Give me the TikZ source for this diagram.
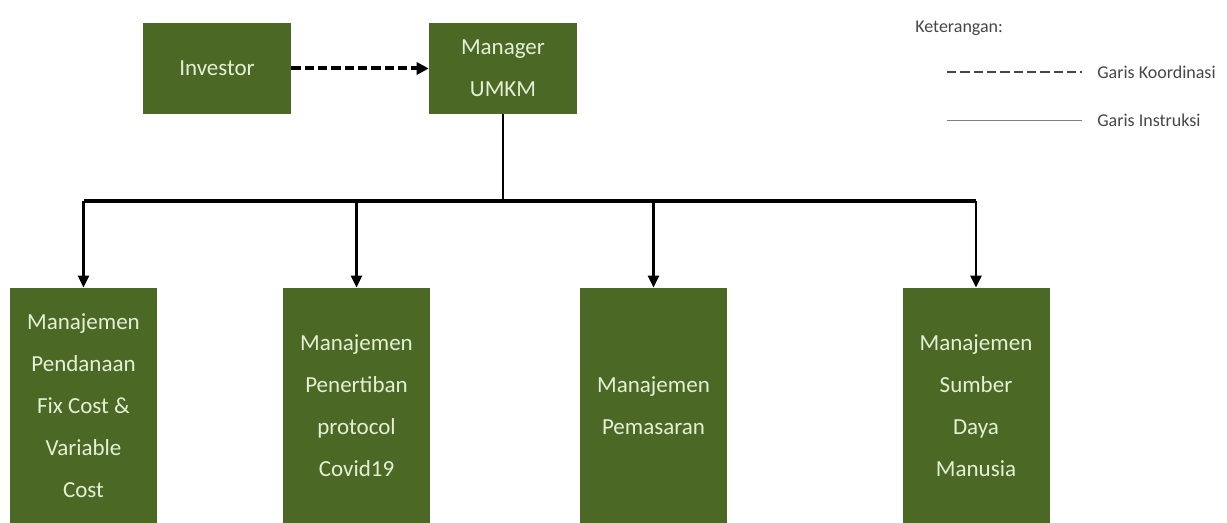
\documentclass[tikz,border=0pt]{standalone}
\usepackage{fontspec}
\setmainfont{Carlito}
\usepackage{xcolor}
\usetikzlibrary{positioning,calc,arrows.meta}

\definecolor{boxgreen}{RGB}{76,104,37}
\definecolor{boxtext}{RGB}{228,240,214}
\definecolor{legendgray}{RGB}{70,70,70}

\begin{document}
\begin{tikzpicture}[x=0.75pt, y=-0.75pt,
    unit/.style={fill=boxgreen, text=boxtext, align=center, inner sep=0pt,
        font=\fontsize{17.25pt}{31.5pt}\selectfont},
    topunit/.style={unit, minimum width=111pt, minimum height=68.25pt},
    subunit/.style={unit, minimum width=110.25pt, minimum height=176.25pt},
    koord/.style={line width=3pt, dash pattern=on 7pt off 3pt, -{Triangle[length=9pt,width=9pt]}},
    instr/.style={line width=2.2pt},
    instrarrow/.style={line width=2.2pt, -{Triangle[length=9pt,width=8pt]}},
    legendtxt/.style={anchor=west, inner sep=0pt, text=legendgray,
        font=\fontsize{13.5pt}{16pt}\selectfont}]
    \useasboundingbox (0,0) rectangle (1227,523);

    % Top level
    \node[topunit] (inv) at (217,68.5) {Investor};
    \node[topunit] (mgr) at (503,68.5) {Manager\\UMKM};
    \draw[koord] (inv.east) -- (mgr.west);

    % Divisions
    \node[subunit] (dana) at (83.5,405.5) {Manajemen\\Pendanaan\\Fix Cost \&\\Variable\\Cost};
    \node[subunit] (tertib) at (356.5,405.5) {Manajemen\\Penertiban\\protocol\\Covid19};
    \node[subunit] (pasar) at (653.5,405.5) {Manajemen\\Pemasaran};
    \node[subunit] (sdm) at (976,405.5) {Manajemen\\Sumber\\Daya\\Manusia};

    % Instruction lines
    \coordinate (hub) at (503,201);
    \draw[instr] (mgr.south) -- (hub);
    \draw[line width=3pt] (dana.north |- hub) -- (sdm.north |- hub);
    \foreach \d in {dana,tertib,pasar,sdm}
        \draw[instrarrow] (\d.north |- hub) -- (\d.north);

    % Legend
    \node[legendtxt] (ket) at (915,28) {Keterangan:};
    \coordinate (kA) at (947,72);
    \coordinate (kB) at (1082,72);
    \coordinate (iA) at (947,120);
    \coordinate (iB) at (1082,120);
    \draw[legendgray, line width=1.2pt, dash pattern=on 7pt off 3pt] (kA) -- (kB);
    \node[legendtxt] (kLbl) at (1097,72) {Garis Koordinasi};
    \draw[gray, line width=0.6pt] (iA) -- (iB);
    \node[legendtxt] (iLbl) at (1097,120) {Garis Instruksi};
\end{tikzpicture}
\end{document}
